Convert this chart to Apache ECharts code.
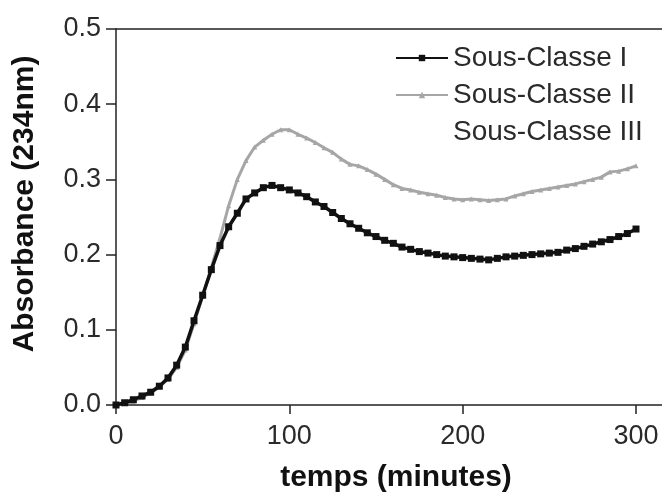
<!DOCTYPE html>
<html>
<head>
<meta charset="utf-8">
<script src="https://cdn.jsdelivr.net/npm/echarts@6/dist/echarts.min.js"></script>
<style>html,body{margin:0;padding:0;background:#fff}#c{width:662px;height:500px}</style>
</head>
<body>
<div id="c"></div>
<script>
var times = [0,5,10,15,20,25,30,35,40,45,50,55,60,65,70,75,80,85,90,95,100,105,110,115,120,125,130,135,140,145,150,155,160,165,170,175,180,185,190,195,200,205,210,215,220,225,230,235,240,245,250,255,260,265,270,275,280,285,290,295,300];
var sousClasse1 = [0.000,0.003,0.007,0.012,0.017,0.025,0.036,0.053,0.077,0.112,0.146,0.180,0.212,0.237,0.255,0.274,0.282,0.289,0.292,0.289,0.286,0.282,0.277,0.270,0.264,0.256,0.248,0.241,0.235,0.229,0.224,0.219,0.215,0.210,0.207,0.204,0.202,0.200,0.198,0.197,0.196,0.195,0.194,0.193,0.195,0.197,0.198,0.199,0.200,0.201,0.202,0.203,0.206,0.208,0.211,0.214,0.217,0.220,0.224,0.228,0.234];
var sousClasse2 = [0.000,0.002,0.005,0.010,0.016,0.024,0.034,0.050,0.073,0.108,0.145,0.183,0.222,0.265,0.300,0.325,0.343,0.352,0.360,0.366,0.366,0.360,0.355,0.349,0.342,0.336,0.327,0.320,0.318,0.313,0.307,0.300,0.293,0.288,0.286,0.283,0.281,0.279,0.276,0.274,0.273,0.274,0.273,0.272,0.273,0.274,0.278,0.281,0.284,0.286,0.288,0.290,0.292,0.294,0.297,0.300,0.303,0.310,0.311,0.314,0.318];
var sousClasse3 = [];
var seriesNames = ['Sous-Classe I','Sous-Classe II','Sous-Classe III'];
var xTicks = [0,100,200,300];

function pairs(xs, ys){ return ys.map(function(v,i){ return [xs[i], v]; }); }

var chart = echarts.init(document.getElementById('c'), null, {renderer:'canvas'});
var font = 'Liberation Sans, Arial, sans-serif';
chart.setOption({
  animation: false,
  backgroundColor: '#fff',
  grid: {left:116, right:0, top:29, bottom:95},
  legend: {
    orient: 'vertical', left: 390, top: 38,
    itemWidth: 52, itemHeight: 8, itemGap: 7,
    data: seriesNames,
    textStyle: {fontFamily: font, fontSize: 28, color: '#2a2a2a', lineHeight: 30}
  },
  xAxis: [{
    type: 'value', min: 0, max: 315, interval: 100,
    name: 'temps (minutes)', nameLocation: 'middle', nameGap: 58,
    nameTextStyle: {fontFamily: font, fontSize: 30, fontWeight: 'bold', color: '#111', padding: [0,0,0,14]},
    axisLine: {show: true, lineStyle: {color: '#222', width: 1.5}},
    axisTick: {show: true, length: 9, inside: false, customValues: xTicks, lineStyle: {color: '#222', width: 1.5}},
    axisLabel: {fontFamily: font, fontSize: 27, color: '#2a2a2a', margin: 18, customValues: xTicks},
    splitLine: {show: false}
  },{
    type: 'value', position: 'top', min: 0, max: 315,
    axisLine: {show: true, onZero: false, lineStyle: {color: '#222', width: 1.5}},
    axisTick: {show: false}, axisLabel: {show: false}, splitLine: {show: false}
  }],
  yAxis: {
    type: 'value', min: 0, max: 0.5, interval: 0.1,
    name: 'Absorbance (234nm)', nameLocation: 'middle', nameGap: 76,
    nameTextStyle: {fontFamily: font, fontSize: 30, fontWeight: 'bold', color: '#111', padding: [0,0,0,26]},
    axisLine: {show: true, lineStyle: {color: '#222', width: 1.5}},
    axisTick: {show: true, length: 10, lineStyle: {color: '#222', width: 1.5}},
    axisLabel: {fontFamily: font, fontSize: 27, color: '#2a2a2a', margin: 15, formatter: function(v){ return v.toFixed(1); }},
    splitLine: {show: false}
  },
  series: [{
    name: seriesNames[0], type: 'line', xAxisIndex: 0, z: 4,
    data: pairs(times, sousClasse1),
    symbol: 'rect', symbolSize: 7, showAllSymbol: true,
    itemStyle: {color: '#111'}, lineStyle: {color: '#111', width: 3.5}
  },{
    name: seriesNames[1], type: 'line', xAxisIndex: 0, z: 3,
    data: pairs(times, sousClasse2),
    symbol: 'triangle', symbolSize: 5, showAllSymbol: true,
    itemStyle: {color: '#a6a6a6'}, lineStyle: {color: '#a6a6a6', width: 3}
  },{
    name: seriesNames[2], type: 'line', xAxisIndex: 0,
    data: sousClasse3, symbol: 'none',
    itemStyle: {color: 'rgba(0,0,0,0)'}, lineStyle: {color: 'rgba(0,0,0,0)'}
  }]
});
</script>
</body>
</html>
